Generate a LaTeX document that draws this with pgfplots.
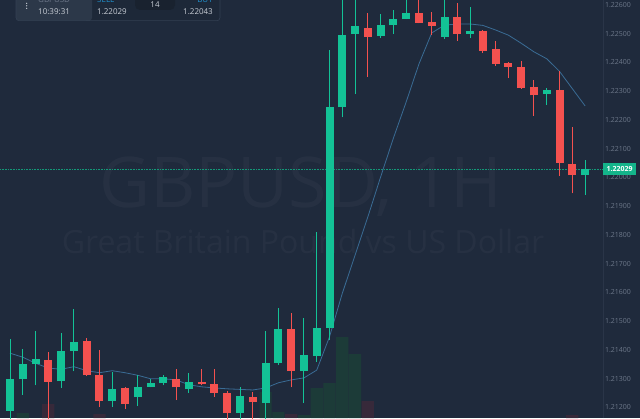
\documentclass[border=0pt]{standalone}
\usepackage{fontspec}
\setmainfont{Open Sans}
\usepackage{pgfplots}
\usepackage{pgfplotstable}
\pgfplotsset{compat=1.18}

\definecolor{bg}{HTML}{1F2A3C}
\definecolor{upc}{HTML}{13C296}
\definecolor{dnc}{HTML}{F4514F}
\definecolor{maline}{HTML}{3A6C95}
\definecolor{axtext}{HTML}{6C7789}
\definecolor{volup}{HTML}{1C3B38}
\definecolor{voldn}{HTML}{37293A}
\definecolor{panel}{HTML}{1D2838}
\definecolor{panelL}{HTML}{2C3849}
\definecolor{panelB}{HTML}{334053}
\definecolor{pill}{HTML}{19222F}
\definecolor{infotext}{HTML}{C9CED6}
\definecolor{sellblue}{HTML}{1F8FCB}
\definecolor{lastc}{HTML}{14B48A}
\definecolor{lastline}{HTML}{139878}
\definecolor{sep}{HTML}{2A3548}

% candles, i = bar index, o h l c
\pgfplotstableread{
i o h l c
0 1.21189 1.21437 1.21122 1.21300
1 1.21298 1.21405 1.21245 1.21351
2 1.21351 1.21465 1.21277 1.21368
4 1.21291 1.21458 1.21268 1.21398
5 1.21396 1.21542 1.21326 1.21428
8 1.21222 1.21324 1.21203 1.21265
10 1.21236 1.21312 1.21205 1.21272
11 1.21272 1.21298 1.21270 1.21284
12 1.21284 1.21312 1.21277 1.21307
14 1.21263 1.21321 1.21252 1.21289
18 1.21182 1.21270 1.21140 1.21240
20 1.21217 1.21465 1.21130 1.21356
21 1.21356 1.21546 1.21349 1.21472
23 1.21326 1.21510 1.21215 1.21382
24 1.21379 1.21812 1.21359 1.21476
25 1.21476 1.22443 1.21435 1.22244
26 1.22244 1.22640 1.22209 1.22495
27 1.22499 1.22640 1.22290 1.22527
29 1.22492 1.22569 1.22485 1.22532
30 1.22529 1.22583 1.22499 1.22552
31 1.22550 1.22640 1.22550 1.22571
34 1.22488 1.22640 1.22481 1.22559
36 1.22499 1.22592 1.22485 1.22509
42 1.22290 1.22311 1.22253 1.22304
45 1.22008 1.22061 1.21940 1.22029
}\upData

\pgfplotstableread{
i o h l c
3 1.21365 1.21393 1.21122 1.21289
6 1.21430 1.21442 1.21310 1.21312
7 1.21312 1.21400 1.21201 1.21224
9 1.21268 1.21270 1.21196 1.21212
13 1.21298 1.21333 1.21226 1.21270
15 1.21289 1.21333 1.21277 1.21282
16 1.21282 1.21333 1.21238 1.21252
17 1.21252 1.21258 1.21140 1.21180
19 1.21238 1.21254 1.21140 1.21219
22 1.21472 1.21528 1.21270 1.21326
28 1.22520 1.22571 1.22351 1.22488
32 1.22573 1.22640 1.22536 1.22538
33 1.22541 1.22576 1.22497 1.22527
35 1.22559 1.22608 1.22476 1.22499
37 1.22509 1.22513 1.22434 1.22441
38 1.22448 1.22474 1.22388 1.22395
39 1.22397 1.22402 1.22346 1.22385
40 1.22383 1.22406 1.22309 1.22311
41 1.22314 1.22339 1.22214 1.22286
43 1.22304 1.22372 1.22005 1.22052
44 1.22047 1.22177 1.21945 1.22008
}\dnData

% volume (visible part only)
\pgfplotstableread{
i v
1 5
20 26
21 6
23 3
24 30
25 35
26 81
27 64
}\volUp
\pgfplotstableread{
i v
3 14
7 4
22 4
28 17
44 3
}\volDn

\pgfplotsset{chartbase/.style={at={(0pt,0pt)}, anchor=south west,
  width=603pt, height=418pt, scale only axis,
  xmin=-0.7825, xmax=46.4, axis line style={draw=none}, tick style={draw=none}}}

\begin{document}
\begin{tikzpicture}
\useasboundingbox (0pt,0pt) rectangle (640pt,418pt);
\clip (0pt,0pt) rectangle (640pt,418pt);
\fill[bg] (0pt,0pt) rectangle (640pt,418pt);

% watermark
\node[anchor=base, text=white, opacity=0.03, font=\fontsize{70}{70}\selectfont, inner sep=0pt] at (301pt,210pt) {GBPUSD, 1H};
\node[anchor=base, text=white, opacity=0.03, font=\fontsize{32}{32}\selectfont, inner sep=0pt] at (303pt,164.7pt) {Great Britain Pound vs US Dollar};

% volume
\begin{axis}[chartbase, hide axis, ymin=0, ymax=418, ybar, bar width=12.2pt, bar shift=0pt]
\addplot[fill=volup, draw=none] table[x=i, y=v] {\volUp};
\addplot[fill=voldn, draw=none] table[x=i, y=v] {\volDn};
\end{axis}

\draw[sep, line width=0.6pt] (603pt,0pt) -- (603pt,418pt);

% price chart
\begin{axis}[chartbase, ymin=1.211635, ymax=1.226174,
  xtick=\empty,
  ytick={1.212,1.213,1.214,1.215,1.216,1.217,1.218,1.219,1.220,1.221,1.222,1.223,1.224,1.225,1.226},
  yticklabel pos=right, scaled y ticks=false,
  yticklabel style={font=\fontsize{7}{8}\selectfont, text=axtext, anchor=east, xshift=31.5pt,
    /pgf/number format/.cd, fixed, fixed zerofill, precision=5, assume math mode=true}]

\addplot[lastline, line width=0.8pt, dash pattern=on 1pt off 0.6pt] coordinates {(-0.7825,1.22029) (46.4,1.22029)};

\addplot[maline, line width=0.8pt, mark=none] coordinates {
(0,1.21389) (1,1.21375) (2,1.21354) (3,1.21337) (4,1.21333) (5,1.21342)
(6,1.21328) (7,1.21321) (8,1.21328) (9,1.21321) (10,1.21312) (11,1.21300)
(12,1.21300) (13,1.21296) (14,1.21279) (15,1.21272) (16,1.21268) (17,1.21265)
(18,1.21263) (19,1.21261) (20,1.21268) (21,1.21286) (22,1.21296) (23,1.21303)
(24,1.21330) (25,1.21446) (26,1.21597) (27,1.21730) (28,1.21863) (29,1.22002)
(30,1.22137) (31,1.22263) (32,1.22395) (33,1.22503) (34,1.22530) (35,1.22534)
(36,1.22534) (37,1.22529) (38,1.22513) (39,1.22495) (40,1.22467) (41,1.22437)
(42,1.22413) (43,1.22369) (44,1.22309) (45,1.22249)};

% wicks
\addplot[draw=none, mark=none, error bars/.cd, y dir=plus, y explicit, error mark=none,
  error bar style={draw=upc, line width=1pt}]
  table[x=i, y=l, y error expr=\thisrow{h}-\thisrow{l}] {\upData};
\addplot[draw=none, mark=none, error bars/.cd, y dir=plus, y explicit, error mark=none,
  error bar style={draw=dnc, line width=1pt}]
  table[x=i, y=l, y error expr=\thisrow{h}-\thisrow{l}] {\dnData};
% bodies
\addplot[draw=none, mark=none, error bars/.cd, y dir=plus, y explicit, error mark=none,
  error bar style={draw=upc, line width=8pt}]
  table[x=i, y=o, y error expr=\thisrow{c}-\thisrow{o}] {\upData};
\addplot[draw=none, mark=none, error bars/.cd, y dir=plus, y explicit, error mark=none,
  error bar style={draw=dnc, line width=8pt}]
  table[x=i, y=c, y error expr=\thisrow{o}-\thisrow{c}] {\dnData};
\end{axis}

% last price tag
\fill[lastc] (603pt,243pt) rectangle (636pt,254.7pt);
\node[text=white, font=\fontsize{7}{8}\selectfont\bfseries, inner sep=0pt] at (619.5pt,248.9pt) {1.22029};

% info panel
\fill[panel, rounded corners=3pt] (16pt,397.3pt) rectangle (220pt,428pt);
\fill[panelL, rounded corners=3pt] (16pt,397.3pt) rectangle (92pt,428pt);
\fill[panelL] (86pt,397.3pt) rectangle (90pt,428pt);
\draw[panelB, line width=0.6pt, rounded corners=3pt] (16pt,397.3pt) rectangle (220pt,428pt);
\fill[pill, rounded corners=5pt] (135pt,408pt) rectangle (175pt,430pt);
\fill[infotext] (26.7pt,414.7pt) circle (0.7pt) (26.7pt,412.2pt) circle (0.7pt) (26.7pt,409.7pt) circle (0.7pt);
\begin{scope}[font=\fontsize{8}{9}\selectfont, inner sep=0pt]
\node[anchor=base west, text=axtext] at (38pt,415.8pt) {GBPUSD};
\node[anchor=base west, text=sellblue] at (97pt,415.8pt) {SELL};
\node[anchor=base east, text=sellblue] at (213pt,415.8pt) {BUY};
\node[anchor=base west, text=infotext] at (38pt,403pt) {10:39:31};
\node[anchor=base west, text=infotext] at (97pt,403pt) {1.22029};
\node[anchor=base east, text=infotext] at (213pt,403pt) {1.22043};
\node[text=infotext] at (155pt,413.7pt) {14};
\end{scope}
\end{tikzpicture}
\end{document}
